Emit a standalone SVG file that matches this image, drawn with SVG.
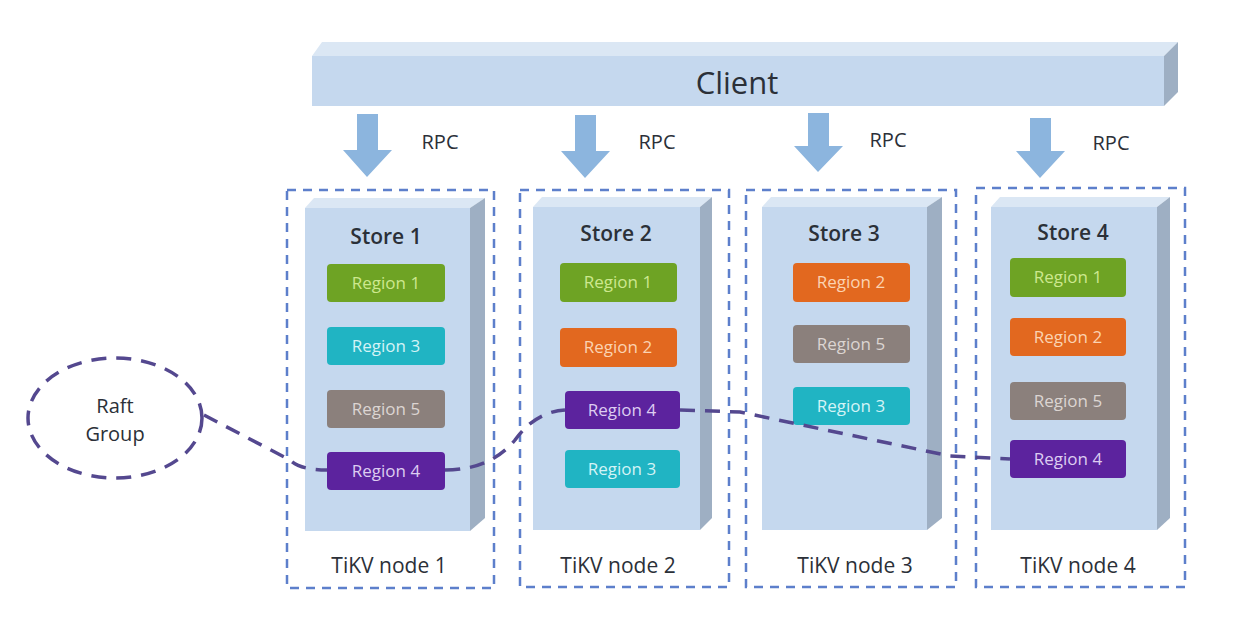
<svg xmlns="http://www.w3.org/2000/svg" width="1248" height="638" viewBox="0 0 1248 638">
<defs>
<style>
.front{fill:#c5d8ee}
.top{fill:#dbe7f4}
.side{fill:#9eafc3}
.node{fill:none;stroke:#5d7fcb;stroke-width:2.5;stroke-dasharray:9 7}
.arrow{fill:#8cb5de}
.t{font-family:"Open Sans","Liberation Sans",sans-serif;fill:#2b3038;text-anchor:middle}
.rpc{font-size:20px}
.store{font-size:21px;font-weight:600}
.tikv{font-size:21px}
.rl{font-family:"Open Sans","Liberation Sans",sans-serif;font-size:17px;text-anchor:middle}
.g{fill:#6ea324}.gt{fill:#cde88f}
.c{fill:#20b4c3}.ct{fill:#d4f3f6}
.s{fill:#8b807c}.st{fill:#dcd5d2}
.p{fill:#5c239e}.pt{fill:#ddcdf1}
.o{fill:#e2681f}.ot{fill:#fbd3b2}
.raft{fill:none;stroke:#54488f;stroke-width:3.5;stroke-dasharray:15 10}
</style>
</defs>
<rect width="1248" height="638" fill="#ffffff"/>

<g id="client">
<polygon class="top" points="322,42 1178,42 1164,56 312,56"/>
<rect class="front" x="312" y="56" width="852" height="50"/>
<polygon class="side" points="1164,56 1178,42 1178,92 1164,106"/>
<text class="t" x="737" y="94" font-size="31" font-weight="500">Client</text>
</g>

<g id="rpc-arrows">
<polygon class="arrow" points="357,114 378,114 378,150 392,150 367,177 343,150 357,150"/>
<polygon class="arrow" points="575,115 596,115 596,151 610,151 585,178 561,151 575,151"/>
<polygon class="arrow" points="808,113 829,113 829,146 843,146 818,172 794,146 808,146"/>
<polygon class="arrow" points="1030,118 1051,118 1051,151 1065,151 1040,178 1016,151 1030,151"/>
<text class="t rpc" x="440" y="149">RPC</text>
<text class="t rpc" x="657" y="149">RPC</text>
<text class="t rpc" x="888" y="147">RPC</text>
<text class="t rpc" x="1111" y="150">RPC</text>
</g>

<g id="tikv-node-1">
<rect class="node" x="287" y="190" width="207" height="398"/>
<polygon class="top" points="314,198 485,198 470,208 305,208"/>
<rect class="front" x="305" y="208" width="165" height="323"/>
<polygon class="side" points="470,208 485,198 485,518 470,531"/>
<text class="t store" x="386" y="244">Store 1</text>
<rect class="g" x="327" y="264" width="118" height="38" rx="4"/><text class="rl gt" x="386" y="289">Region 1</text>
<rect class="c" x="327" y="327" width="118" height="38" rx="4"/><text class="rl ct" x="386" y="352">Region 3</text>
<rect class="s" x="327" y="390" width="118" height="38" rx="4"/><text class="rl st" x="386" y="415">Region 5</text>
<rect class="p" x="327" y="452" width="118" height="38" rx="4"/><text class="rl pt" x="386" y="477">Region 4</text>
<text class="t tikv" x="389" y="573">TiKV node 1</text>
</g>

<g id="tikv-node-2">
<rect class="node" x="520" y="190" width="209" height="397"/>
<polygon class="top" points="542,197 712,197 700,207 533,207"/>
<rect class="front" x="533" y="207" width="167" height="323"/>
<polygon class="side" points="700,207 712,197 712,518 700,530"/>
<text class="t store" x="616" y="241">Store 2</text>
<rect class="g" x="560" y="263" width="117" height="39" rx="4"/><text class="rl gt" x="618" y="288">Region 1</text>
<rect class="o" x="560" y="328" width="117" height="39" rx="4"/><text class="rl ot" x="618" y="353">Region 2</text>
<rect class="p" x="565" y="391" width="115" height="38" rx="4"/><text class="rl pt" x="622" y="416">Region 4</text>
<rect class="c" x="565" y="450" width="115" height="38" rx="4"/><text class="rl ct" x="622" y="475">Region 3</text>
<text class="t tikv" x="618" y="573">TiKV node 2</text>
</g>

<g id="tikv-node-3">
<rect class="node" x="746" y="190" width="210" height="397"/>
<polygon class="top" points="771,197 942,197 927,207 762,207"/>
<rect class="front" x="762" y="207" width="165" height="323"/>
<polygon class="side" points="927,207 942,197 942,518 927,530"/>
<text class="t store" x="844" y="241">Store 3</text>
<rect class="o" x="793" y="263" width="117" height="39" rx="4"/><text class="rl ot" x="851" y="288">Region 2</text>
<rect class="s" x="793" y="325" width="117" height="38" rx="4"/><text class="rl st" x="851" y="350">Region 5</text>
<rect class="c" x="793" y="387" width="117" height="38" rx="4"/><text class="rl ct" x="851" y="412">Region 3</text>
<text class="t tikv" x="855" y="573">TiKV node 3</text>
</g>

<g id="tikv-node-4">
<rect class="node" x="976" y="188" width="209" height="399"/>
<polygon class="top" points="1000,197 1170,197 1157,207 991,207"/>
<rect class="front" x="991" y="207" width="166" height="323"/>
<polygon class="side" points="1157,207 1170,197 1170,518 1157,530"/>
<text class="t store" x="1073" y="240">Store 4</text>
<rect class="g" x="1010" y="258" width="116" height="39" rx="4"/><text class="rl gt" x="1068" y="283">Region 1</text>
<rect class="o" x="1010" y="318" width="116" height="38" rx="4"/><text class="rl ot" x="1068" y="343">Region 2</text>
<rect class="s" x="1010" y="382" width="116" height="38" rx="4"/><text class="rl st" x="1068" y="407">Region 5</text>
<rect class="p" x="1010" y="440" width="116" height="38" rx="4"/><text class="rl pt" x="1068" y="465">Region 4</text>
<text class="t tikv" x="1078" y="573">TiKV node 4</text>
</g>

<g id="raft-group">
<ellipse class="raft" cx="115" cy="418" rx="87" ry="60"/>
<text class="t" x="115" y="413" font-size="20">Raft</text>
<text class="t" x="115" y="441" font-size="20">Group</text>
</g>

<g id="connectors">
<path class="raft" d="M204,415 L290,460 Q300,470 327,470"/>
<path class="raft" d="M445,470 Q490,470 515,440 Q535,412 565,410"/>
<path class="raft" d="M680,410 L740,412 L950,456 L1010,459"/>
</g>
</svg>
